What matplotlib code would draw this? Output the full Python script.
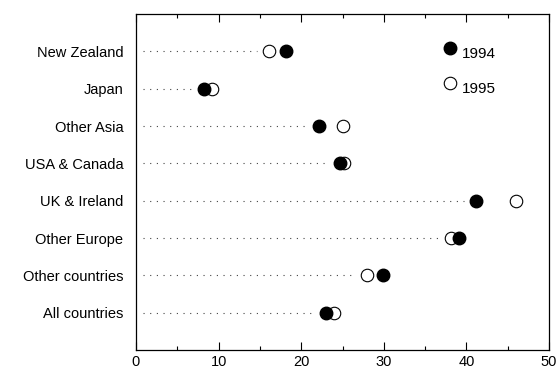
import matplotlib
matplotlib.use("Agg")
import matplotlib.pyplot as plt
from matplotlib.ticker import MultipleLocator

plt.rcParams['font.family'] = ['Liberation Sans', 'DejaVu Sans']

categories = ["New Zealand", "Japan", "Other Asia", "USA & Canada",
              "UK & Ireland", "Other Europe", "Other countries", "All countries"]
y1994 = [18.2, 8.2, 22.2, 24.7, 41.2, 39.1, 29.9, 23.0]
y1995 = [16.1, 9.2, 25.1, 25.2, 46.0, 38.1, 28.0, 24.0]
xticks = [0, 10, 20, 30, 40, 50]

fig = plt.figure(figsize=(5.58, 3.78), dpi=100)
ax = fig.add_axes([0.2437, 0.074, 0.7402, 0.889])

ypos = list(range(len(categories)))
for y, a, b in zip(ypos, y1994, y1995):
    lo = min(a, b)
    ax.plot([0.8, lo - 1.5], [y, y], linestyle=(0, (1, 5)), color='#444444', lw=0.8)

ax.plot(y1995, ypos, 'o', ms=9, mfc='white', mec='black', mew=0.8, linestyle='none')
ax.plot(y1994, ypos, 'o', ms=9, mfc='black', mec='black', linestyle='none')

# legend
ax.plot([38], [-0.1], 'o', ms=9, mfc='black', mec='black')
ax.plot([38], [0.85], 'o', ms=9, mfc='white', mec='black', mew=0.8)
ax.text(39.5, 0.07, "1994", va='center', ha='left', fontsize=11)
ax.text(39.5, 1.0, "1995", va='center', ha='left', fontsize=11)

ax.set_xlim(0, 50)
ax.set_ylim(8, -1)
ax.set_xticks(xticks)
ax.set_xticklabels([str(t) for t in xticks], fontsize=10.5)
ax.xaxis.set_minor_locator(MultipleLocator(5))
ax.tick_params(axis='x', which='major', direction='in', length=6, top=True, width=0.8)
ax.tick_params(axis='x', which='minor', direction='in', length=3, top=True, width=0.8)
ax.set_yticks(ypos)
ax.set_yticklabels(categories, fontsize=10.5)
ax.tick_params(axis='y', length=0, pad=9)
for s in ax.spines.values():
    s.set_linewidth(0.9)

fig.savefig("out.png", dpi=100)
